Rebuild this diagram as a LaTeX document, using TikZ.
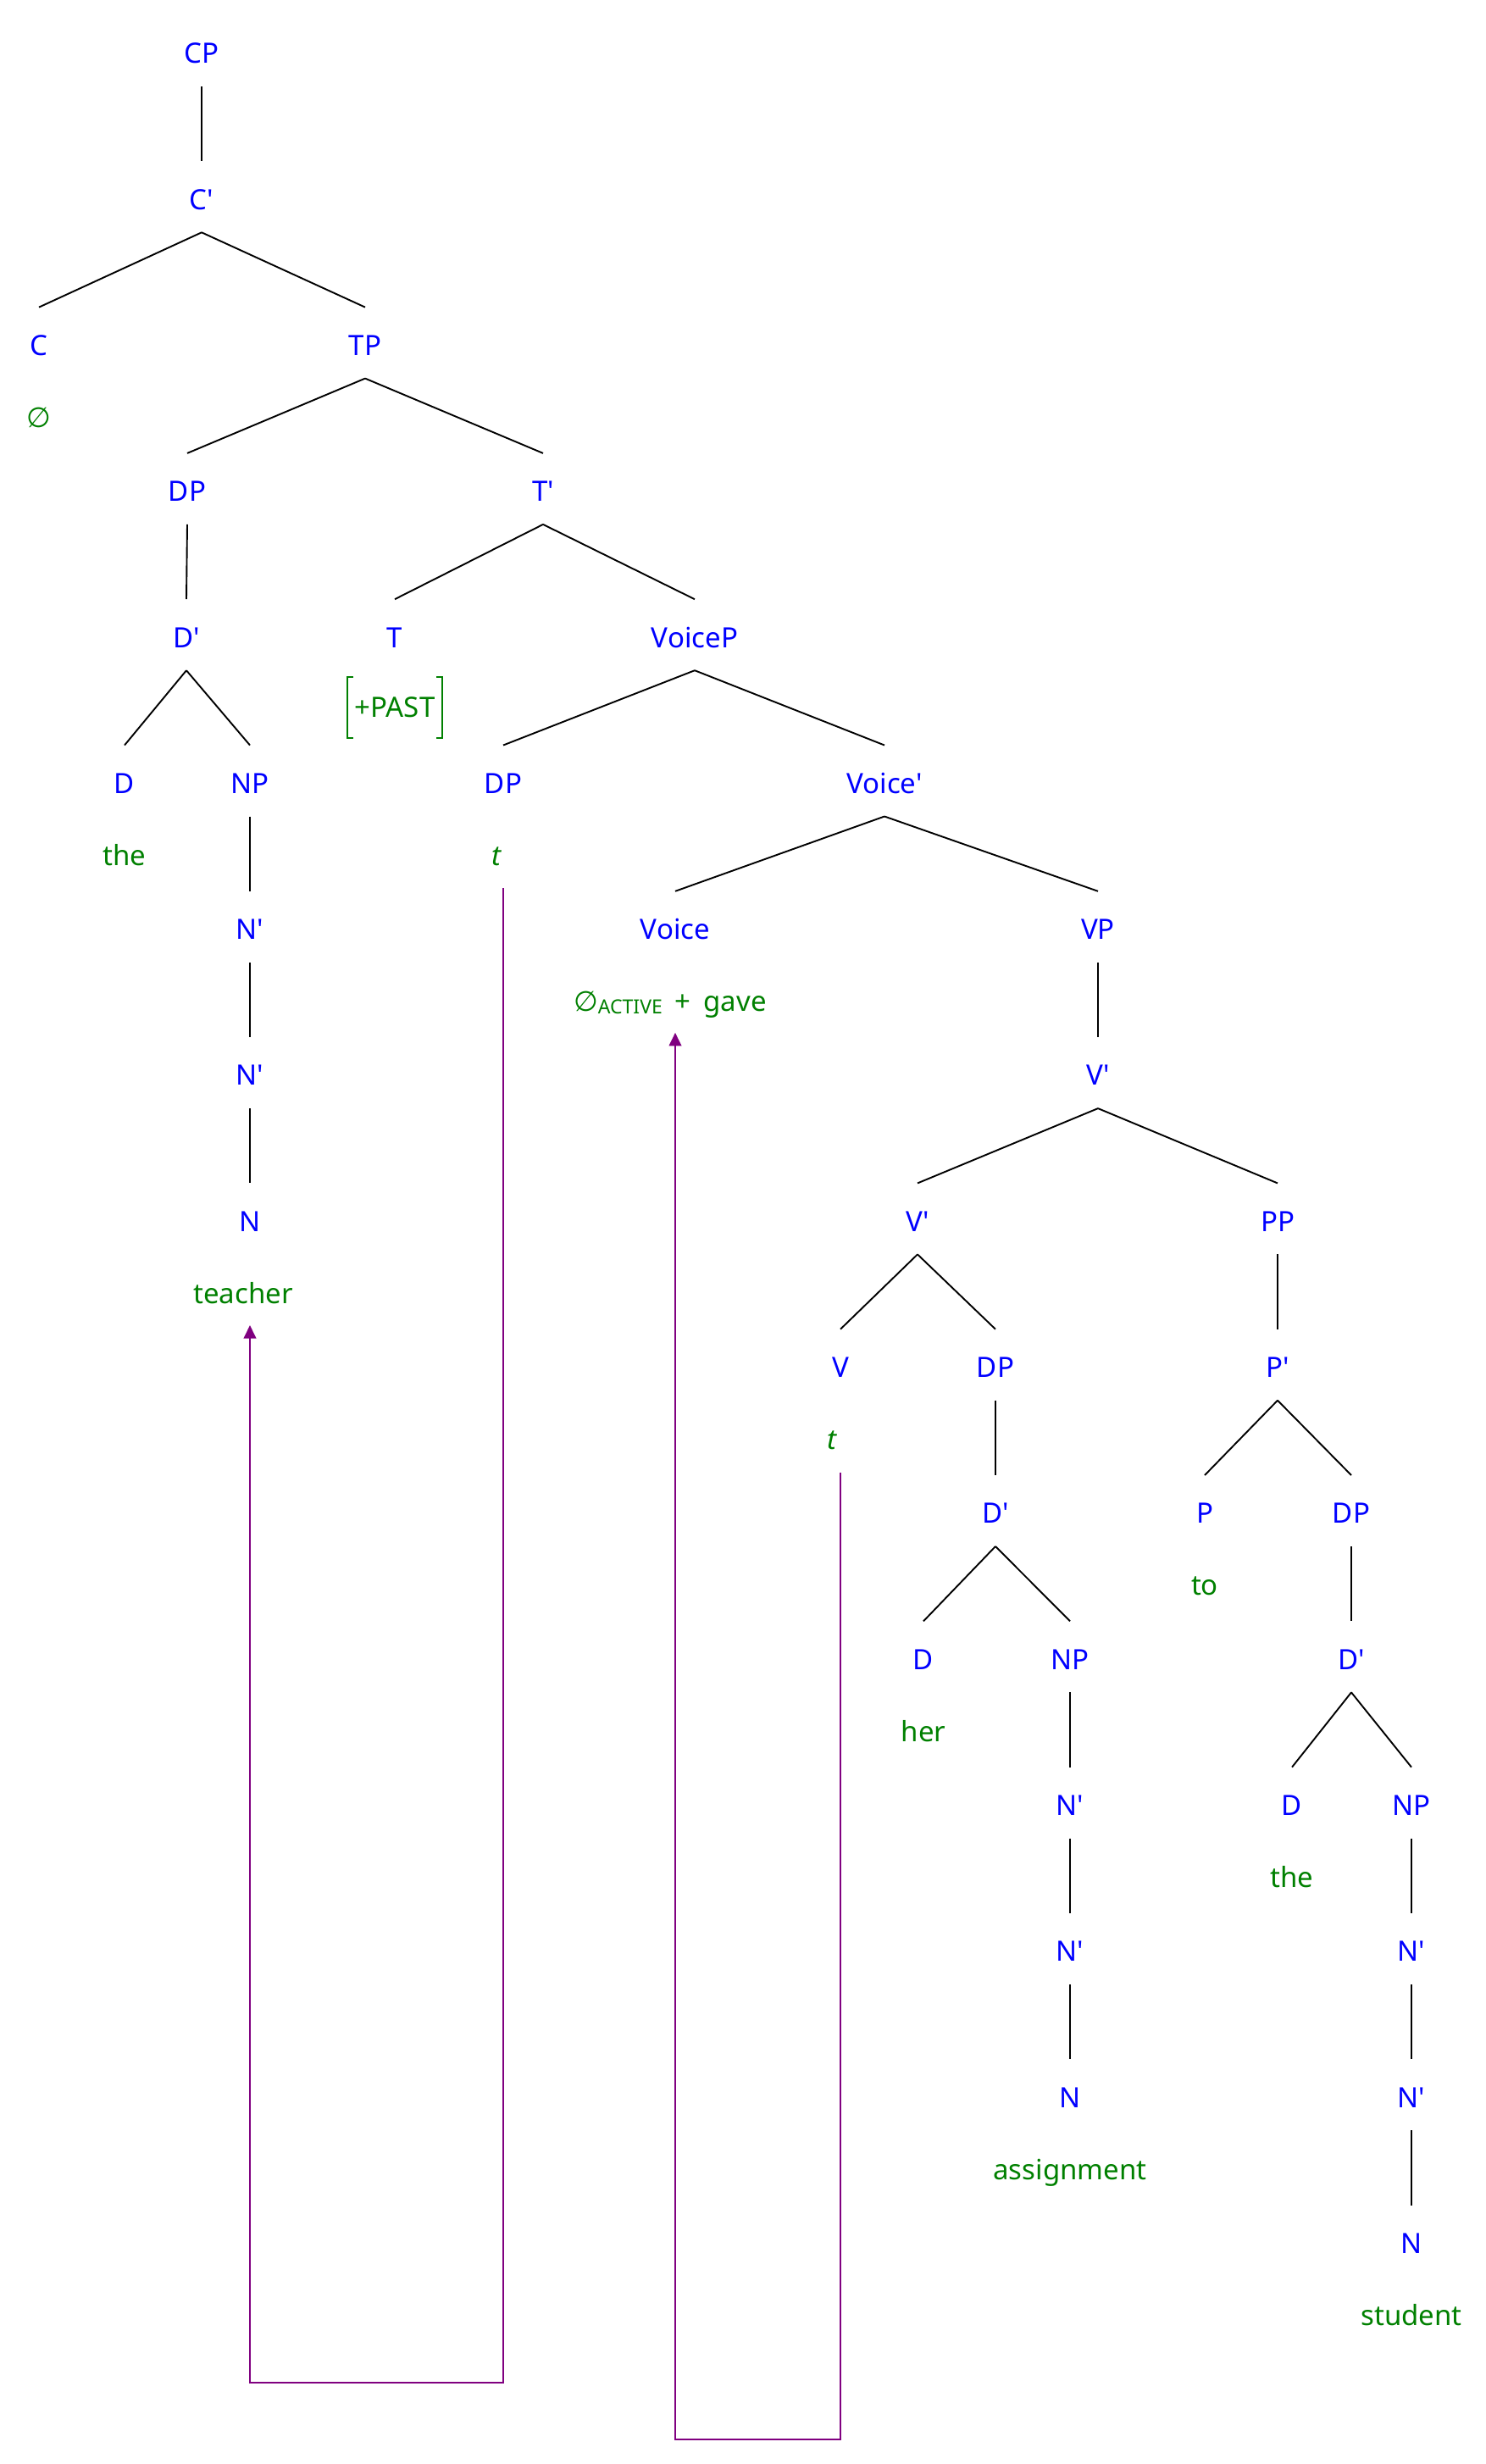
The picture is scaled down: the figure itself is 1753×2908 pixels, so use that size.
\documentclass[tikz,border=0pt]{standalone}
\usepackage{fontspec}
\setmainfont{Noto Sans}[Ligatures=TeXOff]
\newfontfamily\symfam{DejaVu Sans}
\usetikzlibrary{calc,arrows.meta}
\definecolor{catblue}{RGB}{0,0,255}
\definecolor{leafgreen}{RGB}{0,128,0}
\definecolor{movepurple}{RGB}{128,0,128}
\newcommand\tedge[2]{\draw[edge] ($(#1)+(0,39)$) -- ($(#2)+(0,-45)$);}
\begin{document}
\begin{tikzpicture}[x=0.5pt,y=-0.5pt,
  cat/.style={inner sep=0pt, text height=11.8pt, text depth=0pt, text=catblue,
    font=\fontsize{16.5pt}{20pt}\selectfont},
  leaf/.style={cat, text=leafgreen},
  edge/.style={draw=black, line width=0.95pt},
  brk/.style={draw=leafgreen, line width=0.8pt},
  move/.style={draw=movepurple, line width=1pt, -{Triangle[length=7.8pt,width=7.3pt]}}]
\useasboundingbox (0,0) rectangle (1753,2908);
% level 0-1
\node[cat] (CP) at (238,63) {CP};
\node[cat] (C1) at (238,235.3) {C'};
% level 2
\node[cat] (C) at (46,407.6) {C};
\node[leaf] (Cnull) at (46,492.6) {\symfam ∅};
\node[cat] (TP) at (431,407.6) {TP};
% level 3
\node[cat] (DP1) at (221,579.9) {DP};
\node[cat] (T1) at (641,579.9) {T'};
% level 4
\node[cat] (D1) at (220,752.2) {D'};
\node[cat] (T) at (466,752.2) {T};
\node[leaf] (PAST) at (466,835) {+PAST};
\node[cat] (VoiceP) at (820,752.2) {VoiceP};
% level 5
\node[cat] (D) at (147,924.5) {D};
\node[leaf] (theA) at (147,1009.5) {the};
\node[cat] (NP) at (295,924.5) {NP};
\node[cat] (DP2) at (594,924.5) {DP};
\node[leaf] (tDP) at (587,1009.5) {\textit{t}};
\node[cat] (Voice1) at (1044,924.5) {Voice'};
% level 6
\node[cat] (N1a) at (295,1096.8) {N'};
\node[cat] (Voice) at (797,1096.8) {Voice};
\node[leaf] (gave) at (791,1181.8) {{\symfam ∅}\raisebox{-1.5pt}{\fontsize{11.5pt}{12pt}\selectfont ACTIVE}\hspace{7.5pt}+\hspace{7.5pt}gave};
\node[cat] (VP) at (1296,1096.8) {VP};
% level 7
\node[cat] (N1b) at (295,1269.1) {N'};
\node[cat] (V1a) at (1296,1269.1) {V'};
% level 8
\node[cat] (N) at (295,1441.4) {N};
\node[leaf] (teacher) at (287,1526.4) {teacher};
\node[cat] (V1b) at (1083,1441.4) {V'};
\node[cat] (PP) at (1508,1441.4) {PP};
% level 9
\node[cat] (V) at (992,1613.7) {V};
\node[leaf] (tV) at (982,1698.7) {\textit{t}};
\node[cat] (DP3) at (1175,1613.7) {DP};
\node[cat] (P1) at (1508,1613.7) {P'};
% level 10
\node[cat] (D1b) at (1175,1786) {D'};
\node[cat] (P) at (1422,1786) {P};
\node[leaf] (to) at (1422,1871) {to};
\node[cat] (DP4) at (1595,1786) {DP};
% level 11
\node[cat] (Db) at (1090,1958.3) {D};
\node[leaf] (her) at (1090,2043.3) {her};
\node[cat] (NPb) at (1263,1958.3) {NP};
\node[cat] (D1c) at (1595,1958.3) {D'};
% level 12
\node[cat] (N1c) at (1263,2130.6) {N'};
\node[cat] (Dc) at (1525,2130.6) {D};
\node[leaf] (theB) at (1525,2215.6) {the};
\node[cat] (NPc) at (1666,2130.6) {NP};
% level 13
\node[cat] (N1d) at (1263,2302.9) {N'};
\node[cat] (N1e) at (1666,2302.9) {N'};
% level 14
\node[cat] (Nb) at (1263,2475.2) {N};
\node[leaf] (assignment) at (1263,2560.2) {assignment};
\node[cat] (N1f) at (1666,2475.2) {N'};
% level 15
\node[cat] (Nc) at (1666,2647.5) {N};
\node[leaf] (student) at (1666,2732.5) {student};
% brackets around +PAST
\draw[brk] ($(PAST.west)+(0,-36)$) ++(-1,0) -- ++(-7,0) -- ++(0,72) -- ++(7,0);
\draw[brk] ($(PAST.east)+(0,-36)$) ++(1,0) -- ++(7,0) -- ++(0,72) -- ++(-7,0);
% tree edges
\tedge{CP}{C1}
\tedge{C1}{C}
\tedge{C1}{TP}
\tedge{TP}{DP1}
\tedge{TP}{T1}
\tedge{DP1}{D1}
\tedge{T1}{T}
\tedge{T1}{VoiceP}
\tedge{D1}{D}
\tedge{D1}{NP}
\tedge{VoiceP}{DP2}
\tedge{VoiceP}{Voice1}
\tedge{NP}{N1a}
\tedge{Voice1}{Voice}
\tedge{Voice1}{VP}
\tedge{N1a}{N1b}
\tedge{VP}{V1a}
\tedge{N1b}{N}
\tedge{V1a}{V1b}
\tedge{V1a}{PP}
\tedge{V1b}{V}
\tedge{V1b}{DP3}
\tedge{PP}{P1}
\tedge{DP3}{D1b}
\tedge{P1}{P}
\tedge{P1}{DP4}
\tedge{D1b}{Db}
\tedge{D1b}{NPb}
\tedge{DP4}{D1c}
\tedge{NPb}{N1c}
\tedge{D1c}{Dc}
\tedge{D1c}{NPc}
\tedge{N1c}{N1d}
\tedge{NPc}{N1e}
\tedge{N1d}{Nb}
\tedge{N1e}{N1f}
\tedge{N1f}{Nc}
% movement arrows
\coordinate (low1) at (0,2812);
\coordinate (low2) at (0,2879);
\draw[move] ($(DP2 |- tDP)+(0,38.5)$) -- (DP2 |- low1) -- (N |- low1) -- ($(N |- teacher)+(0,37.6)$);
\draw[move] ($(V |- tV)+(0,39)$) -- (V |- low2) -- (Voice |- low2) -- ($(Voice |- gave)+(0,37)$);
\end{tikzpicture}
\end{document}
